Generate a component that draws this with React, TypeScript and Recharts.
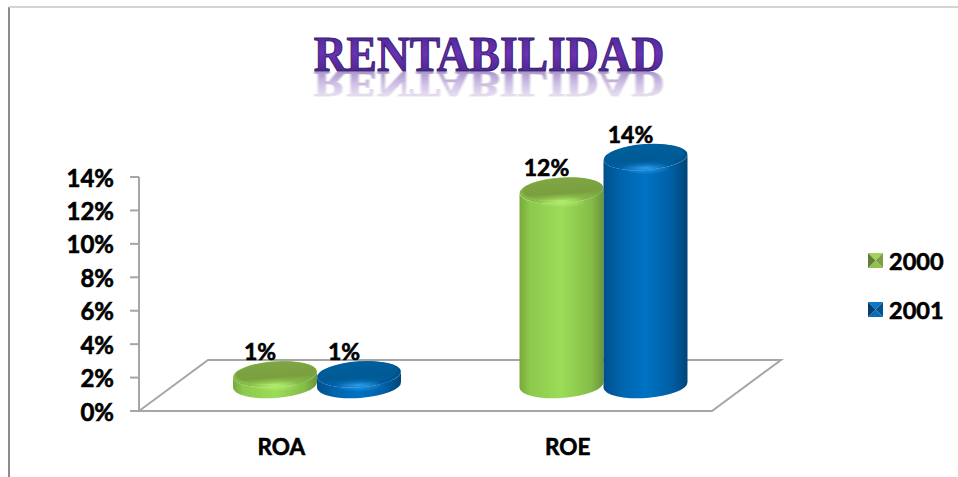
import { BarChart, Bar, XAxis, YAxis, Legend, LabelList } from "recharts"

const categories = ["ROA", "ROE"]
const values2000 = [1, 12]
const values2001 = [1, 14]
const yTicks = [0, 2, 4, 6, 8, 10, 12, 14]
const seriesNames = ["2000", "2001"]

const chartData = categories.map((name, i) => ({
  name,
  "2000": values2000[i],
  "2001": values2001[i],
}))

const FONT = "Lato, sans-serif"
const colors: Record<string, { swatch: string[] }> = {
  "2000": { swatch: ["#a4d05f", "#7f9f44", "#90c050", "#5f8030"] },
  "2001": { swatch: ["#0f78c4", "#00558f", "#0a6cb4", "#003f70"] },
}

// the picture is a fake 3D chart, bars sit to the right of the band centre
const SHIFT = 35

function Cylinder(props: any) {
  const { x, y, width, height, dataKey } = props
  const id = String(dataKey)
  const left = x + SHIFT
  const rx = width / 2
  const ry = 13
  const tilt = 3
  const cx = left + rx
  const cyTop = y - 20
  const cyBottom = y + height - 26
  const body = `M${left},${cyTop + tilt} A${rx},${ry} -4 0 0 ${left + width},${cyTop - tilt}
    L${left + width},${cyBottom - tilt} A${rx},${ry} -4 0 1 ${left},${cyBottom + tilt} Z`
  return (
    <g>
      <path d={body} fill={`url(#body${id})`} />
      <ellipse
        cx={cx}
        cy={cyTop}
        rx={rx}
        ry={ry}
        fill={`url(#rim${id})`}
        transform={`rotate(-4 ${cx} ${cyTop})`}
      />
      <ellipse cx={cx} cy={cyTop + ry * 0.85} rx={rx * 0.6} ry={ry * 0.5} fill={`url(#glow${id})`} />
      <ellipse
        cx={cx}
        cy={cyTop - 1.5}
        rx={rx * 0.93}
        ry={ry * 0.85}
        fill={`url(#cap${id})`}
        transform={`rotate(-4 ${cx} ${cyTop})`}
      />
    </g>
  )
}

function BarValue(props: any) {
  const { x, y, width, value } = props
  return (
    <text
      x={x + width / 2 + SHIFT - 15}
      y={y - 43}
      textAnchor="middle"
      dominantBaseline="central"
      fontFamily={FONT}
      fontWeight={700}
      fontSize={23}
      fill="#000"
      stroke="#000"
      strokeWidth={0.6}
    >
      {value}%
    </text>
  )
}

function LegendBox() {
  return (
    <div>
      {seriesNames.map((name) => {
        const s = colors[name].swatch
        return (
          <div key={name} style={{ display: "flex", alignItems: "center", height: 49 }}>
            <svg width={15} height={15} style={{ marginRight: 6 }}>
              <polygon points="0,0 15,0 7.5,7.5" fill={s[0]} />
              <polygon points="15,0 15,15 7.5,7.5" fill={s[1]} />
              <polygon points="0,15 15,15 7.5,7.5" fill={s[2]} />
              <polygon points="0,0 0,15 7.5,7.5" fill={s[3]} />
            </svg>
            <span
              style={{
                fontFamily: FONT,
                fontWeight: 700,
                fontSize: 23.5,
                color: "#000",
                WebkitTextStroke: "0.6px #000",
              }}
            >
              {name}
            </span>
          </div>
        )
      })}
    </div>
  )
}

export default function App() {
  return (
    <div style={{ position: "absolute", left: 0, top: 0, width: 958, height: 477, background: "#fff" }}>
      <BarChart
        width={958}
        height={477}
        data={chartData}
        margin={{ top: 177, right: 246, bottom: 0, left: 0 }}
        barSize={84}
        barGap={0}
      >
        <defs>
          <linearGradient id="body2000" x1="0" y1="0" x2="1" y2="0">
            <stop offset="0" stopColor="#78a83c" />
            <stop offset="0.12" stopColor="#8cc94c" />
            <stop offset="0.5" stopColor="#9bdc58" />
            <stop offset="0.85" stopColor="#86bd48" />
            <stop offset="1" stopColor="#6a9638" />
          </linearGradient>
          <linearGradient id="body2001" x1="0" y1="0" x2="1" y2="0">
            <stop offset="0" stopColor="#004f8a" />
            <stop offset="0.2" stopColor="#0064ac" />
            <stop offset="0.5" stopColor="#0072c4" />
            <stop offset="0.8" stopColor="#0060a6" />
            <stop offset="1" stopColor="#004578" />
          </linearGradient>
          <linearGradient id="rim2000" x1="0" y1="0" x2="1" y2="0">
            <stop offset="0" stopColor="#82b445" />
            <stop offset="0.5" stopColor="#93d052" />
            <stop offset="1" stopColor="#76a03e" />
          </linearGradient>
          <linearGradient id="rim2001" x1="0" y1="0" x2="1" y2="0">
            <stop offset="0" stopColor="#00589a" />
            <stop offset="0.5" stopColor="#0068b0" />
            <stop offset="1" stopColor="#004f88" />
          </linearGradient>
          <linearGradient id="cap2000" x1="0" y1="0" x2="0" y2="1">
            <stop offset="0" stopColor="#7fa544" />
            <stop offset="0.7" stopColor="#7a9f3e" />
            <stop offset="1" stopColor="#86b446" stopOpacity={0.2} />
          </linearGradient>
          <linearGradient id="cap2001" x1="0" y1="0" x2="0" y2="1">
            <stop offset="0" stopColor="#005f9e" />
            <stop offset="0.7" stopColor="#005a94" />
            <stop offset="1" stopColor="#0066aa" stopOpacity={0.2} />
          </linearGradient>
          <radialGradient id="glow2000">
            <stop offset="0" stopColor="#b4f070" stopOpacity={0.9} />
            <stop offset="1" stopColor="#b4f070" stopOpacity={0} />
          </radialGradient>
          <radialGradient id="glow2001">
            <stop offset="0" stopColor="#30a0f0" stopOpacity={0.9} />
            <stop offset="1" stopColor="#30a0f0" stopOpacity={0} />
          </radialGradient>
          <linearGradient id="titleFill" x1="0" y1="0" x2="0" y2="1">
            <stop offset="0" stopColor="#45248a" />
            <stop offset="0.5" stopColor="#6a32b4" />
            <stop offset="1" stopColor="#3f2080" />
          </linearGradient>
          <linearGradient id="fadeStops" x1="0" y1="0" x2="0" y2="1">
            <stop offset="0" stopColor="#fff" stopOpacity={0.5} />
            <stop offset="1" stopColor="#fff" stopOpacity={0.04} />
          </linearGradient>
          <mask id="titleFade" maskUnits="userSpaceOnUse" x={300} y={70} width={380} height={34}>
            <rect x={300} y={70} width={380} height={34} fill="url(#fadeStops)" />
          </mask>
          <filter id="soft">
            <feGaussianBlur stdDeviation="0.9" />
          </filter>
        </defs>

        {/* picture frame, only left and top edges show */}
        <line x1={9} y1={7} x2={9} y2={477} stroke="#8c8c8c" strokeWidth={2} />
        <line x1={9} y1={7} x2={958} y2={7} stroke="#d4d4d4" strokeWidth={2} />

        {/* the reflection reuses the title text */}
        <g mask="url(#titleFade)">
          <use href="#titleText" transform="translate(0 72) scale(1 -0.73) translate(0 -71)" filter="url(#soft)" />
        </g>
        <text
          id="titleText"
          x={489}
          y={71}
          textAnchor="middle"
          fontFamily="'Liberation Serif', serif"
          fontWeight={700}
          fontSize={45.5}
          transform="translate(0 71) scale(1 1.1) translate(0 -71)"
          fill="url(#titleFill)"
          stroke="#3a1d75"
          strokeWidth={1}
        >
          RENTABILIDAD
        </text>

        {/* floor of the 3D box */}
        <polygon points="139,411 208,360 781,360 712,411" fill="none" stroke="#a6a6a6" strokeWidth={2} />

        <XAxis
          dataKey="name"
          axisLine={{ stroke: "#a6a6a6", strokeWidth: 2 }}
          tickLine={false}
          height={66}
          tickMargin={22}
          tick={{ fontFamily: FONT, fontWeight: 700, fontSize: 22.5, fill: "#000", stroke: "#000", strokeWidth: 0.6, dx: -1 }}
        />
        <YAxis
          width={139}
          domain={[0, 14]}
          ticks={yTicks}
          interval={0}
          tickFormatter={(v: number) => `${v}%`}
          axisLine={{ stroke: "#a6a6a6", strokeWidth: 2 }}
          tickLine={{ stroke: "#a6a6a6", strokeWidth: 2 }}
          tickSize={9}
          tickMargin={16}
          tick={{ fontFamily: FONT, fontWeight: 700, fontSize: 24, fill: "#000", stroke: "#000", strokeWidth: 0.6, dy: 1 }}
        />
        <Legend
          layout="vertical"
          align="center"
          verticalAlign="middle"
          content={<LegendBox />}
          wrapperStyle={{ left: 868, top: 236, width: 90 }}
        />
        <Bar dataKey="2000" shape={<Cylinder />} isAnimationActive={false}>
          <LabelList dataKey="2000" content={<BarValue />} />
        </Bar>
        <Bar dataKey="2001" shape={<Cylinder />} isAnimationActive={false}>
          <LabelList dataKey="2001" content={<BarValue />} />
        </Bar>
      </BarChart>
    </div>
  )
}
